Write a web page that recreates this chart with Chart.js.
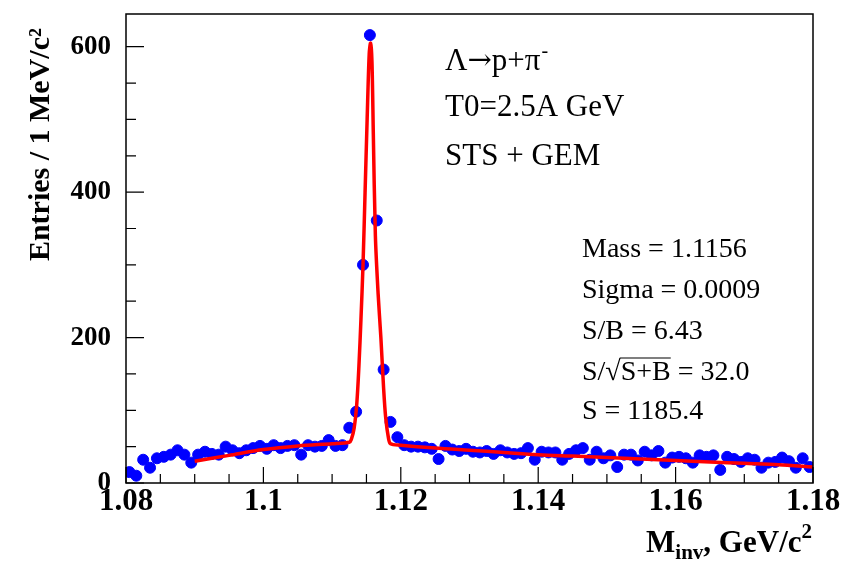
<!DOCTYPE html>
<html>
<head>
  <title>Lambda invariant mass</title>
  <script src="https://cdn.jsdelivr.net/npm/chart.js"></script>
  <style>
    body { margin: 0; background: #fff; }
  </style>
</head>
<body>
  <canvas id="myChart" width="842" height="562"></canvas>

  <script>
    // Histogram: 1 MeV bins from 1.08 to 1.18 GeV/c^2
    var binLow = 1.08;
    var binWidth = 0.001;
    var entries = [
      15, 10, 32, 21, 34, 36, 39, 45, 39, 28,
      39, 43, 40, 39, 50, 45, 41, 45, 48, 51,
      47, 52, 48, 51, 52, 39, 52, 50, 51, 59,
      51, 52, 76, 98, 300, 616, 361, 156, 84, 63,
      52, 50, 50, 49, 47, 33, 51, 46, 44, 47,
      43, 42, 44, 40, 45, 42, 40, 41, 48, 32,
      43, 42, 42, 32, 40, 45, 48, 32, 43, 34,
      38, 22, 39, 39, 31, 43, 38, 44, 28, 35,
      36, 34, 28, 38, 36, 38, 18, 36, 33, 29,
      34, 32, 21, 28, 29, 35, 30, 21, 34, 22
    ];

    // Fit curve
    var fitMass = [1.090, 1.095, 1.100, 1.105, 1.110, 1.1125, 1.1128, 1.1132, 1.1136, 1.1139,
                   1.1142, 1.1145, 1.1148, 1.1151, 1.1154, 1.1156, 1.1158, 1.1160, 1.1163, 1.1167,
                   1.1171, 1.1175, 1.1178, 1.1182, 1.1185, 1.120, 1.125, 1.130, 1.135, 1.140,
                   1.145, 1.150, 1.155, 1.160, 1.165, 1.170, 1.175, 1.180];
    var fitEntries = [30, 38, 46, 51, 54, 56, 60, 75, 110, 160,
                      225, 300, 400, 500, 590, 605, 580, 480, 340, 260,
                      200, 130, 90, 62, 54, 52, 48, 45, 42, 39,
                      37, 35, 33, 31, 29, 27, 25, 22];

    var xTicksMajor = [1.08, 1.1, 1.12, 1.14, 1.16, 1.18];
    var yTicksMajor = [0, 200, 400, 600];

    var histPoints = entries.map(function (v, i) {
      return { x: binLow + (i + 0.5) * binWidth, y: v };
    });
    var fitPoints = fitMass.map(function (m, i) {
      return { x: m, y: fitEntries[i] };
    });

    var serif = '"Liberation Serif", "Times New Roman", serif';

    // ROOT style frame, inner ticks and text
    var rootStyle = {
      id: 'rootStyle',
      afterDraw: function (chart) {
        var ctx = chart.ctx;
        var a = chart.chartArea;
        var xs = chart.scales.x, ys = chart.scales.y;
        ctx.save();
        ctx.strokeStyle = '#000';
        ctx.lineWidth = 1.5;
        ctx.strokeRect(a.left, a.top, a.right - a.left, a.bottom - a.top);

        ctx.lineWidth = 1.2;
        ctx.beginPath();
        for (var m = 1080; m <= 1180; m += 5) {
          var px = xs.getPixelForValue(m / 1000);
          var len = (m % 20 === 0) ? 16 : 9;
          ctx.moveTo(px, a.bottom);
          ctx.lineTo(px, a.bottom - len);
        }
        for (var v = 0; v <= 640; v += 50) {
          var py = ys.getPixelForValue(v);
          var l = (v % 200 === 0) ? 18 : 10;
          ctx.moveTo(a.left, py);
          ctx.lineTo(a.left + l, py);
        }
        ctx.stroke();

        ctx.fillStyle = '#000';
        ctx.textBaseline = 'alphabetic';

        // y title
        ctx.save();
        ctx.translate(49, 28);
        ctx.rotate(-Math.PI / 2);
        ctx.textAlign = 'right';
        ctx.font = 'bold 30px ' + serif;
        ctx.fillText('Entries / 1 MeV/c²', 0, 0);
        ctx.restore();

        // x title with subscript
        ctx.textAlign = 'left';
        var big = 'bold 31px ' + serif, small = 'bold 21px ' + serif;
        ctx.font = big;
        var wM = ctx.measureText('M').width;
        var wRest = ctx.measureText(', GeV/c').width;
        ctx.font = small;
        var wInv = ctx.measureText('inv').width;
        var wSup = ctx.measureText('2').width;
        var x0 = 812 - (wM + wInv + wRest + wSup);
        var base = 552;
        ctx.font = big;
        ctx.fillText('M', x0, base);
        ctx.font = small;
        ctx.fillText('inv', x0 + wM, base + 7);
        ctx.font = big;
        ctx.fillText(', GeV/c', x0 + wM + wInv, base);
        ctx.font = small;
        ctx.fillText('2', x0 + wM + wInv + wRest, base - 14);

        // reaction text
        var left = '31px ' + serif;
        ctx.font = left;
        var wL = ctx.measureText('Λ').width;
        ctx.fillText('Λ', 445, 70);
        ctx.font = '29px "DejaVu Serif", serif';
        var wA = ctx.measureText('→').width;
        ctx.fillText('→', 445 + wL, 69);
        ctx.font = left;
        var wP = ctx.measureText('p+π').width;
        ctx.fillText('p+π', 445 + wL + wA, 70);
        ctx.font = '20px ' + serif;
        ctx.fillText('-', 445 + wL + wA + wP + 1, 57);
        ctx.font = left;
        ctx.fillText('T0=2.5A GeV', 445, 116);
        ctx.fillText('STS + GEM', 445, 165);

        // fit results
        ctx.font = '28px ' + serif;
        var rx = 582;
        ctx.fillText('Mass = 1.1156', rx, 257);
        ctx.fillText('Sigma = 0.0009', rx, 298);
        ctx.fillText('S/B = 6.43', rx, 339);
        var w1 = ctx.measureText('S/').width;
        ctx.fillText('S/', rx, 380);
        ctx.fillText('√', rx + w1, 380);
        var w2 = ctx.measureText('√').width;
        var w3 = ctx.measureText('S+B').width;
        ctx.fillText('S+B', rx + w1 + w2, 380);
        ctx.lineWidth = 1.2;
        ctx.beginPath();
        ctx.moveTo(rx + w1 + w2 - 1, 358);
        ctx.lineTo(rx + w1 + w2 + w3, 358);
        ctx.stroke();
        ctx.fillText(' = 32.0', rx + w1 + w2 + w3, 380);
        ctx.fillText('S = 1185.4', rx, 419);
        ctx.restore();
      }
    };

    var ctx = document.getElementById('myChart').getContext('2d');
    var myChart = new Chart(ctx, {
      type: 'scatter',
      data: {
        datasets: [{
          label: 'fit',
          data: fitPoints,
          showLine: true,
          borderColor: '#ff0000',
          borderWidth: 3.5,
          pointRadius: 0,
          tension: 0.3,
          order: 0
        }, {
          label: 'entries',
          data: histPoints,
          backgroundColor: '#0000ff',
          borderColor: '#0000ff',
          pointRadius: 5.5,
          order: 1
        }]
      },
      options: {
        responsive: false,
        animation: false,
        layout: { padding: { left: 0, top: 14, right: 29, bottom: 0 } },
        plugins: {
          legend: { display: false },
          tooltip: { enabled: false }
        },
        scales: {
          x: {
            type: 'linear',
            min: 1.08,
            max: 1.18,
            grid: { display: false, drawTicks: false },
            border: { display: false },
            afterFit: function (s) { s.height = 79; s.paddingLeft = 0; s.paddingRight = 0; },
            afterBuildTicks: function (s) {
              s.ticks = xTicksMajor.map(function (v) { return { value: v }; });
            },
            ticks: {
              padding: 0,
              maxRotation: 0,
              autoSkip: false,
              color: '#000',
              font: { family: serif, weight: 'bold', size: 31 },
              callback: function (v) { return String(Number(v.toFixed(2))); }
            }
          },
          y: {
            min: 0,
            max: 645,
            grid: { display: false, drawTicks: false },
            border: { display: false },
            afterFit: function (s) { s.width = 126; s.paddingTop = 0; s.paddingBottom = 0; },
            afterBuildTicks: function (s) {
              s.ticks = yTicksMajor.map(function (v) { return { value: v }; });
            },
            ticks: {
              padding: 15,
              color: '#000',
              font: { family: serif, weight: 'bold', size: 27 }
            }
          }
        }
      },
      plugins: [rootStyle]
    });
  </script>
</body>
</html>
